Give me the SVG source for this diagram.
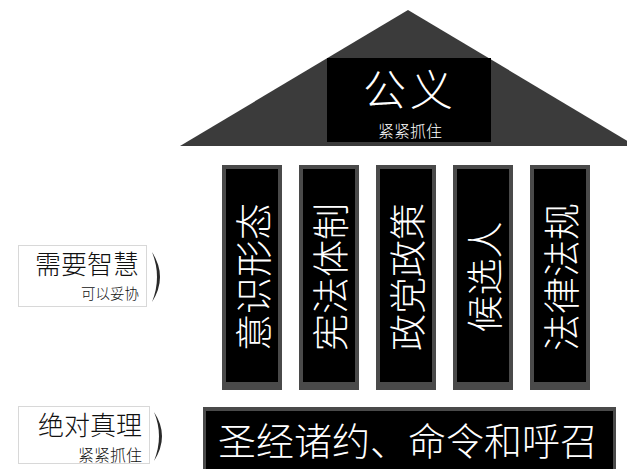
<svg xmlns="http://www.w3.org/2000/svg" width="627" height="469" viewBox="0 0 627 469">
<style>
.t{font-family:"Noto Sans CJK SC","Noto Sans",sans-serif;font-weight:300;fill:#fff}
.d{font-family:"Noto Sans CJK SC","Noto Sans",sans-serif;font-weight:300;fill:#111}
.col-outer{fill:#4a4a4a}
.col-inner{fill:#000}
.lbl{fill:#fff;stroke:#d8d8d8;stroke-width:1}
.chev{fill:#2a2a2a}
</style>
<defs>
<filter id="soft" x="-20%" y="-20%" width="140%" height="140%"><feGaussianBlur stdDeviation="0.6"/></filter>
</defs>
<rect width="627" height="469" fill="#fff"/>
<g id="roof">
<polygon points="408,10 180,146 636,146" fill="#3b3b3b"/>
<rect x="327" y="58" width="164" height="84" fill="#000"/>
<text class="t" x="410" y="106" font-size="43" text-anchor="middle" letter-spacing="4">公义</text>
<text class="t" x="410" y="137" font-size="16" text-anchor="middle">紧紧抓住</text>
</g>
<g id="col1">
<rect class="col-outer" x="222" y="165" width="60" height="225"/>
<rect class="col-inner" x="226" y="169" width="52" height="213"/>
<text class="t" font-size="37" text-anchor="middle" dominant-baseline="central" transform="translate(252,277) rotate(-90)">意识形态</text>
</g>
<g id="col2">
<rect class="col-outer" x="299" y="165" width="60" height="225"/>
<rect class="col-inner" x="303" y="169" width="52" height="213"/>
<text class="t" font-size="37" text-anchor="middle" dominant-baseline="central" transform="translate(329,277) rotate(-90)">宪法体制</text>
</g>
<g id="col3">
<rect class="col-outer" x="376" y="165" width="60" height="225"/>
<rect class="col-inner" x="380" y="169" width="52" height="213"/>
<text class="t" font-size="37" text-anchor="middle" dominant-baseline="central" transform="translate(406,277) rotate(-90)">政党政策</text>
</g>
<g id="col4">
<rect class="col-outer" x="453" y="165" width="60" height="225"/>
<rect class="col-inner" x="457" y="169" width="52" height="213"/>
<text class="t" font-size="37" text-anchor="middle" dominant-baseline="central" transform="translate(483,277) rotate(-90)">候选人</text>
</g>
<g id="col5">
<rect class="col-outer" x="530" y="165" width="60" height="225"/>
<rect class="col-inner" x="534" y="169" width="52" height="213"/>
<text class="t" font-size="37" text-anchor="middle" dominant-baseline="central" transform="translate(560,277) rotate(-90)">法律法规</text>
</g>
<g id="base">
<rect x="203" y="407" width="413" height="62" fill="#4a4a4a"/>
<rect x="206" y="411" width="407" height="58" fill="#000"/>
<text class="t" x="408" y="455" font-size="38" text-anchor="middle">圣经诸约、命令和呼召</text>
</g>
<g id="label-wisdom">
<rect class="lbl" x="18.5" y="245.5" width="128" height="61"/>
<text class="d" x="139" y="274" font-size="26" text-anchor="end">需要智慧</text>
<text class="d" x="139" y="299" font-size="14.5" text-anchor="end">可以妥协</text>
</g>
<g id="label-truth">
<rect class="lbl" x="18.5" y="406.5" width="131" height="57"/>
<text class="d" x="142" y="435" font-size="26" text-anchor="end">绝对真理</text>
<text class="d" x="142" y="461" font-size="16" text-anchor="end">紧紧抓住</text>
</g>
<g id="connectors">
<path class="chev" filter="url(#soft)" d="M152,252 Q168,277 152,302 Q162,277 152,252 Z"/>
<path class="chev" filter="url(#soft)" d="M154,412 Q170,436 154,461 Q164,436 154,412 Z"/>
</g>
</svg>
